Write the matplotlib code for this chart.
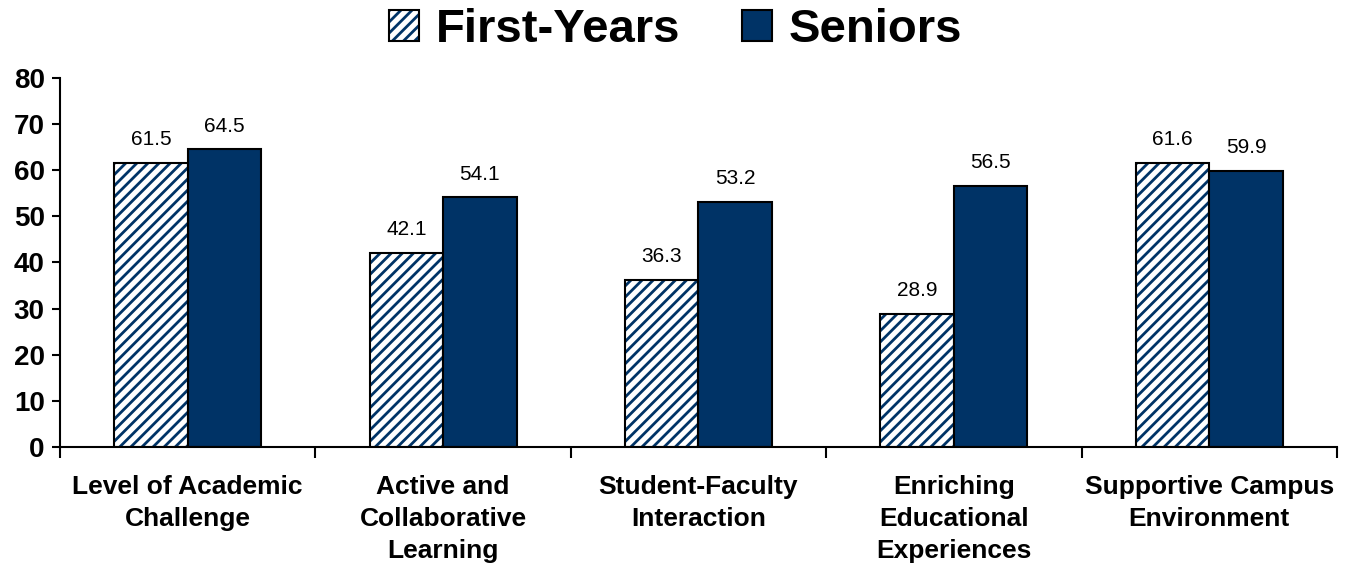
import numpy as np
import matplotlib.pyplot as plt
from matplotlib.patches import Patch
from matplotlib.legend_handler import HandlerTuple

plt.rcParams['font.family'] = ['Liberation Sans', 'DejaVu Sans']
plt.rcParams['hatch.linewidth'] = 2.0

categories = ["Level of Academic\nChallenge", "Active and\nCollaborative\nLearning",
              "Student-Faculty\nInteraction", "Enriching\nEducational\nExperiences",
              "Supportive Campus\nEnvironment"]
first_years = [61.5, 42.1, 36.3, 28.9, 61.6]
seniors = [64.5, 54.1, 53.2, 56.5, 59.9]
series_names = ["First-Years", "Seniors"]

navy = '#003366'

fig = plt.figure(figsize=(13.51, 5.71), dpi=100)
ax = fig.add_axes([0.0444, 0.2172, 0.9452, 0.6462])

x = np.arange(len(categories))
w = 0.288
# hatched bars: navy stripes on white, then black outline on top
ax.bar(x - w / 2, first_years, w, facecolor='white', edgecolor=navy,
       hatch='///', linewidth=0)
b1 = ax.bar(x - w / 2, first_years, w, fill=False, edgecolor='black', linewidth=1.5)
b2 = ax.bar(x + w / 2, seniors, w, facecolor=navy, edgecolor='black', linewidth=1.5)

for bars, vals in ((b1, first_years), (b2, seniors)):
    for r, v in zip(bars, vals):
        ax.annotate(f"{v:.1f}", (r.get_x() + r.get_width() / 2, v),
                    xytext=(0, 10), textcoords='offset points',
                    ha='center', va='bottom', fontsize=15)

ax.set_xlim(-0.5, len(categories) - 0.5)
ax.set_ylim(0, 80)
ax.set_yticks(range(0, 81, 10))
ax.tick_params(axis='y', labelsize=20, width=1.5, length=6, pad=5, direction='out')
for lab in ax.get_yticklabels():
    lab.set_fontweight('bold')

ax.set_xticks(np.arange(len(categories) + 1) - 0.5)
ax.set_xticklabels([])
ax.tick_params(axis='x', width=1.5, length=8, direction='out')
for i, c in enumerate(categories):
    ax.text(i, -6.1, c, ha='center', va='top', fontsize=19, fontweight='bold',
            linespacing=1.42)

for s in ['top', 'right']:
    ax.spines[s].set_visible(False)
for s in ['left', 'bottom']:
    ax.spines[s].set_linewidth(1.5)

h_fy = (Patch(facecolor='white', edgecolor=navy, hatch='///', linewidth=0),
        Patch(fill=False, edgecolor='black', linewidth=1.5))
h_sr = Patch(facecolor=navy, edgecolor='black', linewidth=1.5)
fig.legend([h_fy, h_sr], series_names, loc='center', bbox_to_anchor=(0.5, 0.947),
           ncol=2, frameon=False, prop={'size': 34, 'weight': 'bold'},
           handler_map={tuple: HandlerTuple(ndivide=1, pad=0)},
           handlelength=0.64, handleheight=0.64, handletextpad=0.36, columnspacing=1.3)

fig.savefig('out.png', dpi=100)
